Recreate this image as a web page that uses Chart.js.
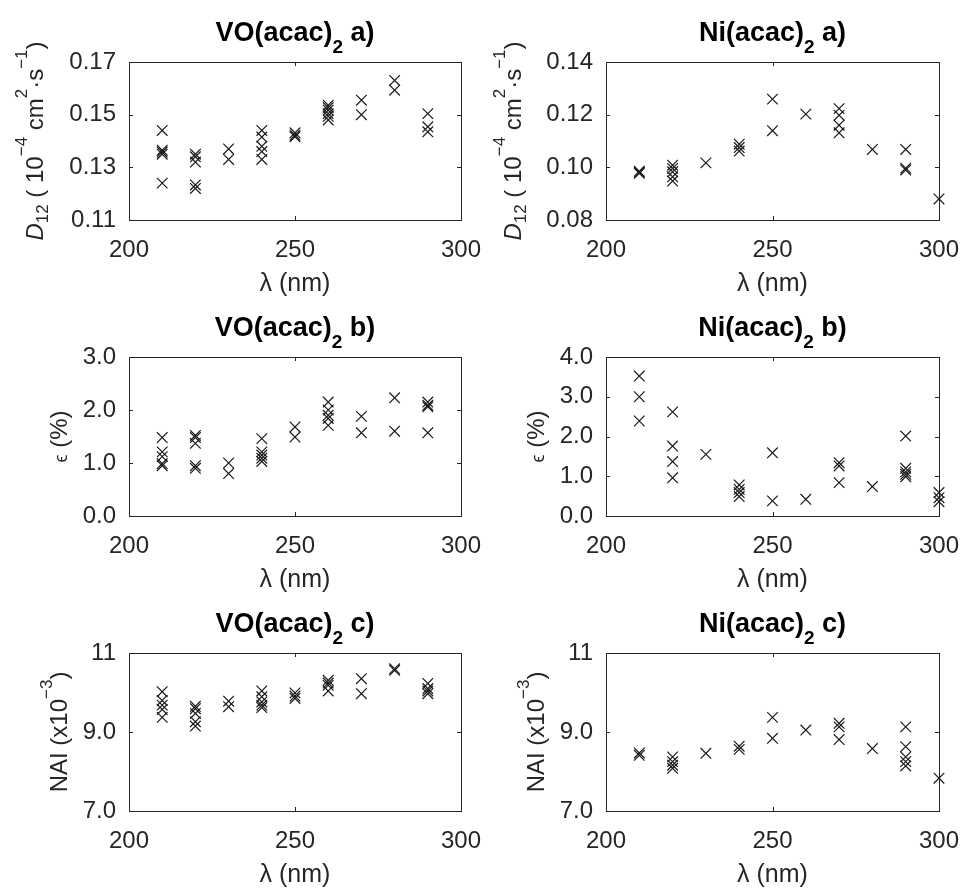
<!DOCTYPE html>
<html>
<head>
<meta charset="utf-8">
<script src="https://cdn.jsdelivr.net/npm/chart.js@4.4.1/dist/chart.umd.min.js"></script>
<style>
  body { margin: 0; background: #fff; }
  #fig { position: relative; width: 963px; height: 893px; overflow: hidden; }
  canvas { position: absolute; }
</style>
</head>
<body>
<div id="fig">
  <canvas id="voA" width="490" height="297" style="left:0;top:0"></canvas>
  <canvas id="niA" width="490" height="297" style="left:473px;top:0"></canvas>
  <canvas id="voB" width="490" height="297" style="left:0;top:297px"></canvas>
  <canvas id="niB" width="490" height="297" style="left:473px;top:297px"></canvas>
  <canvas id="voC" width="490" height="299" style="left:0;top:594px"></canvas>
  <canvas id="niC" width="490" height="299" style="left:473px;top:594px"></canvas>
</div>
<script>
// wavelength ticks (nm)
const xTicks = [200, 250, 300];

// D12 (10^-4 cm2/s)
const voAx = [210,210,210,210,210, 220,220,220,220,220, 230,230, 240,240,240,240,240, 250,250,250, 260,260,260,260,260,260, 270,270, 280,280, 290,290,290];
const voAy = [0.144,0.1365,0.1358,0.135,0.124, 0.135,0.134,0.132,0.1233,0.122, 0.137,0.133, 0.144,0.1415,0.138,0.136,0.133, 0.1431,0.1422,0.1416, 0.1536,0.1527,0.1517,0.1504,0.1494,0.148, 0.1555,0.150, 0.163,0.1593, 0.1504,0.1454,0.1435];
const niAx = [210,210,210, 220,220,220,220,220, 230, 240,240,240, 250,250, 260, 270,270,270,270, 280, 290,290,290, 300];
const niAy = [0.0985,0.0982,0.0977, 0.1008,0.0996,0.0983,0.0964,0.0948, 0.1017, 0.1088,0.1075,0.1062, 0.1259,0.1139, 0.1202, 0.1223,0.1198,0.116,0.1131, 0.1068, 0.1068,0.0997,0.099, 0.088];

// epsilon (%)
const voBx = [210,210,210,210,210, 220,220,220,220,220, 230,230, 240,240,240,240,240, 250,250, 260,260,260,260,260, 270,270, 280,280, 290,290,290,290];
const voBy = [1.48,1.21,1.12,0.99,0.95, 1.52,1.48,1.37,0.95,0.90, 1.00,0.80, 1.46,1.21,1.15,1.09,1.03, 1.68,1.49, 2.15,2.00,1.90,1.84,1.71, 1.88,1.57, 2.23,1.60, 2.15,2.09,2.06,1.57];
const niBx = [210,210,210, 220,220,220,220, 230, 240,240,240,240, 250,250, 260, 270,270,270, 280, 290,290,290,290,290, 300,300,300];
const niBy = [3.52,3.00,2.39, 2.62,1.76,1.37,0.96, 1.55, 0.78,0.67,0.59,0.49, 1.59,0.38, 0.42, 1.34,1.26,0.84, 0.74, 2.01,1.20,1.11,1.05,0.99, 0.59,0.46,0.36];

// NAI (x10^-3)
const voCx = [210,210,210,210,210, 220,220,220,220,220, 230,230, 240,240,240,240,240, 250,250,250, 260,260,260,260, 270,270, 280,280, 290,290,290,290];
const voCy = [10.02,9.80,9.68,9.57,9.37, 9.65,9.59,9.47,9.26,9.15, 9.78,9.64, 10.04,9.89,9.76,9.68,9.62, 9.99,9.91,9.85, 10.31,10.24,10.18,10.04, 10.35,9.97, 10.60,10.56, 10.23,10.10,10.04,9.97];
const niCx = [210,210, 220,220,220,220, 230, 240,240, 250,250, 260, 270,270,270, 280, 290,290,290,290,290, 300];
const niCy = [8.47,8.41, 8.37,8.25,8.16,8.08, 8.46, 8.64,8.56, 9.37,8.84, 9.05, 9.22,9.13,8.81, 8.58, 9.13,8.63,8.37,8.25,8.14, 7.83];

// y tick values and their printed labels
const d12VoTicks = [0.11, 0.13, 0.15, 0.17];
const d12VoLabels = ['0.11', '0.13', '0.15', '0.17'];
const d12NiTicks = [0.08, 0.10, 0.12, 0.14];
const d12NiLabels = ['0.08', '0.10', '0.12', '0.14'];
const epsVoTicks = [0, 1, 2, 3];
const epsVoLabels = ['0.0', '1.0', '2.0', '3.0'];
const epsNiTicks = [0, 1, 2, 3, 4];
const epsNiLabels = ['0.0', '1.0', '2.0', '3.0', '4.0'];
const naiTicks = [7, 9, 11];
const naiLabels = ['7.0', '9.0', '11'];

const FONT = '"Liberation Sans", Arial, Helvetica, sans-serif';
const INK = '#262626';

// draw a line of text built from parts (sub/superscripts), centred on x,y
function drawRich(ctx, parts, x, y, rotate, color) {
  ctx.save();
  ctx.translate(x, y);
  if (rotate) ctx.rotate(-Math.PI / 2);
  ctx.fillStyle = color;
  ctx.textBaseline = 'alphabetic';
  ctx.textAlign = 'left';
  const fontOf = p => (p.i ? 'italic ' : '') + (p.b ? 'bold ' : '') + p.s + 'px ' + FONT;
  let total = 0;
  parts.forEach(p => { ctx.font = fontOf(p); total += ctx.measureText(p.t).width; });
  let cx = -total / 2;
  parts.forEach(p => {
    ctx.font = fontOf(p);
    ctx.fillText(p.t, cx, p.dy || 0);
    cx += ctx.measureText(p.t).width;
  });
  ctx.restore();
}

function titleParts(name, tag) {
  return [
    { t: name + '(acac)', s: 27, b: true },
    { t: '2', s: 19, b: true, dy: 12 },
    { t: ' ' + tag, s: 27, b: true }
  ];
}

const d12Label = [
  { t: 'D', s: 24, i: true },
  { t: '12', s: 17, dy: 5 },
  { t: ' ( 10', s: 24 },
  { t: '\u22124', s: 17, dy: -16 },
  { t: ' cm', s: 24 },
  { t: '2', s: 17, dy: -16 },
  { t: '\u00b7s', s: 24 },
  { t: '\u22121', s: 17, dy: -16 },
  { t: ')', s: 24 }
];
const epsLabel = [
  { t: '\u03f5', s: 18 },
  { t: ' (%)', s: 24 }
];
const naiLabel = [
  { t: 'NAI (x10', s: 24 },
  { t: '\u22123', s: 17, dy: -15 },
  { t: ')', s: 24 }
];
const xLabel = [{ t: '\u03bb (nm)', s: 25 }];

// plot box corners in canvas pixels (left col canvas at 0, right col at 473)
const panels = [
  { id: 'voA', xs: voAx, ys: voAy, ticks: d12VoTicks, labels: d12VoLabels, title: titleParts('VO', 'a)'), ylab: d12Label, gap: 86, area: { l: 129, t: 62, r: 461, b: 220 } },
  { id: 'niA', xs: niAx, ys: niAy, ticks: d12NiTicks, labels: d12NiLabels, title: titleParts('Ni', 'a)'), ylab: d12Label, gap: 85, area: { l: 133, t: 62, r: 466, b: 220 } },
  { id: 'voB', xs: voBx, ys: voBy, ticks: epsVoTicks, labels: epsVoLabels, title: titleParts('VO', 'b)'), ylab: epsLabel, gap: 62, area: { l: 129, t: 60, r: 461, b: 219 } },
  { id: 'niB', xs: niBx, ys: niBy, ticks: epsNiTicks, labels: epsNiLabels, title: titleParts('Ni', 'b)'), ylab: epsLabel, gap: 62, area: { l: 133, t: 60, r: 466, b: 219 } },
  { id: 'voC', xs: voCx, ys: voCy, ticks: naiTicks, labels: naiLabels, title: titleParts('VO', 'c)'), ylab: naiLabel, gap: 62, area: { l: 129, t: 59, r: 461, b: 217 } },
  { id: 'niC', xs: niCx, ys: niCy, ticks: naiTicks, labels: naiLabels, title: titleParts('Ni', 'c)'), ylab: naiLabel, gap: 62, area: { l: 133, t: 59, r: 466, b: 217 } }
];

// box, inward ticks on all four sides, titles and axis labels
const matlabAxes = {
  id: 'matlabAxes',
  beforeDatasetsDraw(chart, args, opts) {
    const { ctx, chartArea: a, scales } = chart;
    ctx.save();
    ctx.strokeStyle = INK;
    ctx.lineWidth = 1;
    ctx.beginPath();
    scales.x.ticks.forEach(t => {
      const px = Math.round(scales.x.getPixelForValue(t.value)) + 0.5;
      ctx.moveTo(px, a.bottom); ctx.lineTo(px, a.bottom - 4);
      ctx.moveTo(px, a.top); ctx.lineTo(px, a.top + 4);
    });
    scales.y.ticks.forEach(t => {
      const py = Math.round(scales.y.getPixelForValue(t.value)) + 0.5;
      ctx.moveTo(a.left, py); ctx.lineTo(a.left + 4, py);
      ctx.moveTo(a.right, py); ctx.lineTo(a.right - 4, py);
    });
    ctx.stroke();
    ctx.strokeRect(Math.round(a.left) + 0.5, Math.round(a.top) + 0.5,
      Math.round(a.right - a.left), Math.round(a.bottom - a.top));
    ctx.restore();
  },
  afterDraw(chart, args, opts) {
    const { ctx, chartArea: a } = chart;
    const cx = (a.left + a.right) / 2;
    drawRich(ctx, opts.title, cx, a.top - 21, false, '#000');
    drawRich(ctx, xLabel, cx, a.bottom + 71, false, INK);
    drawRich(ctx, opts.ylab, a.left - opts.gap, (a.top + a.bottom) / 2, true, INK);
  }
};

function makePanel(p) {
  const cv = document.getElementById(p.id);
  const W = cv.width, H = cv.height;
  const xAxisH = 40;
  new Chart(cv.getContext('2d'), {
    type: 'scatter',
    data: {
      datasets: [{
        data: p.xs.map((x, i) => ({ x: x, y: p.ys[i] })),
        pointStyle: 'crossRot',
        pointRadius: 7.5,
        pointBorderWidth: 1.2,
        borderColor: '#1a1a1a',
        backgroundColor: '#1a1a1a',
        clip: false
      }]
    },
    options: {
      responsive: false,
      animation: false,
      events: [],
      layout: {
        padding: { left: 0, top: p.area.t, right: W - p.area.r, bottom: H - p.area.b - xAxisH }
      },
      plugins: {
        legend: { display: false },
        tooltip: { enabled: false },
        matlabAxes: { title: p.title, ylab: p.ylab, gap: p.gap }
      },
      scales: {
        x: {
          type: 'linear',
          min: xTicks[0],
          max: xTicks[xTicks.length - 1],
          afterBuildTicks: s => { s.ticks = xTicks.map(v => ({ value: v })); },
          afterFit: s => { s.height = xAxisH; s.paddingLeft = 0; s.paddingRight = 0; },
          grid: { display: false, drawTicks: false },
          border: { display: false },
          ticks: { color: INK, font: { family: FONT, size: 24 }, padding: 16, maxRotation: 0 }
        },
        y: {
          type: 'linear',
          min: p.ticks[0],
          max: p.ticks[p.ticks.length - 1],
          afterBuildTicks: s => { s.ticks = p.ticks.map(v => ({ value: v })); },
          afterFit: s => { s.width = p.area.l; s.paddingTop = 0; s.paddingBottom = 0; },
          grid: { display: false, drawTicks: false },
          border: { display: false },
          ticks: {
            color: INK,
            font: { family: FONT, size: 24 },
            padding: 13,
            callback: (v, i) => p.labels[i]
          }
        }
      }
    },
    plugins: [matlabAxes]
  });
}

panels.forEach(makePanel);
</script>
</body>
</html>
